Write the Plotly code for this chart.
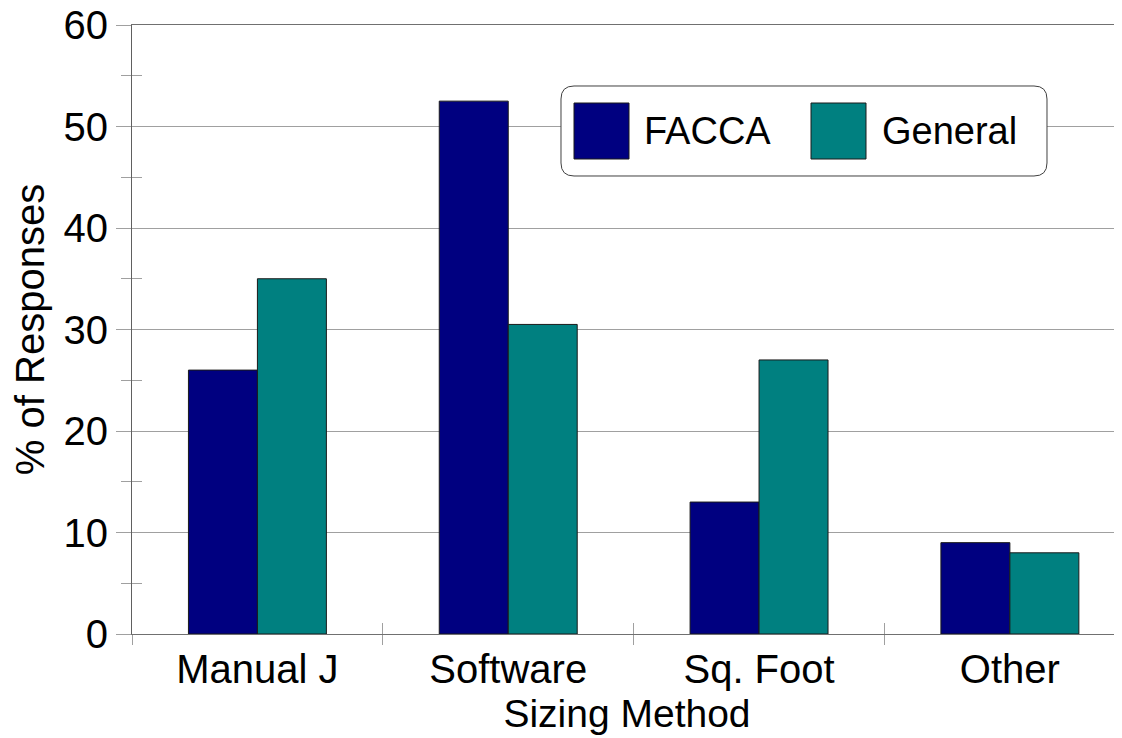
import plotly.graph_objects as go

categories = ["Manual J", "Software", "Sq. Foot", "Other"]
facca = [26, 52.5, 13, 9]
general = [35, 30.5, 27, 8]
series_names = ["FACCA", "General"]
series_colors = ["#000080", "#008080"]

# the page body adds an 8px offset; compensate so the plot lands where the reference has it
OFF = 8
W, H = 1122 - OFF, 738 - OFF
PL, PT, PB = 132, 25, 634          # plot area in page pixels
L, T, R = PL - OFF, PT - OFF, 0
B = (H + OFF) - PB
PW, PH = 1122 - PL, PB - PT

def px(x):
    return (x - PL) / PW

def py(y):
    return (PB - y) / PH

FONT = "Liberation Sans, Arial, sans-serif"

fig = go.Figure()
for name, vals, col in zip(series_names, [facca, general], series_colors):
    fig.add_trace(go.Bar(name=name, x=categories, y=vals, marker_color=col,
                         marker_line_color="#1a1a1a", marker_line_width=1,
                         showlegend=False))
# invisible trace to activate overlay axes
fig.add_trace(go.Scatter(x=categories, y=[None] * 4, xaxis="x2", yaxis="y2",
                         mode="markers", showlegend=False, hoverinfo="skip"))

xr = [-0.5, 3.447]
fig.update_layout(
    width=W, height=H,
    margin=dict(l=L, r=R, t=T, b=B, pad=0, autoexpand=False),
    paper_bgcolor="white", plot_bgcolor="white",
    font=dict(family=FONT, color="black", size=40),
    barmode="group", bargap=0.45, bargroupgap=0,
    showlegend=False,
    xaxis=dict(type="category", categoryorder="array", categoryarray=categories,
               range=xr, tickson="boundaries", ticks="outside", ticklen=10,
               tickcolor="#a0a0a0", tickwidth=1, automargin=False,
               showline=True, linecolor="#707070", linewidth=1, mirror=True,
               showgrid=False, zeroline=False,
               tickfont=dict(size=40), ticklabelstandoff=0,
               title=dict(text="Sizing Method", font=dict(size=39), standoff=9)),
    xaxis2=dict(type="category", categoryorder="array", categoryarray=categories,
                range=xr, overlaying="x", anchor="y", side="bottom", automargin=False,
                tickson="boundaries", ticks="inside", ticklen=11,
                tickcolor="#a0a0a0", showticklabels=False, showgrid=False,
                showline=False, zeroline=False),
    yaxis=dict(range=[0, 60], dtick=10, tick0=0, ticks="outside", ticklen=15,
               tickcolor="#a0a0a0", showline=True, linecolor="#606060", linewidth=1,
               showgrid=True, gridcolor="#a0a0a0", gridwidth=1, zeroline=False,
               tickfont=dict(size=40), ticklabelstandoff=0, automargin=False,
               ticklabeloverflow="allow",
               minor=dict(ticks="outside", ticklen=10, tickcolor="#a0a0a0", dtick=5,
                          tick0=0, showgrid=False),
               title=dict(text="% of Responses", font=dict(size=40), standoff=8)),
    yaxis2=dict(range=[0, 60], overlaying="y", anchor="x", side="left", automargin=False,
                tick0=5, dtick=10, ticks="inside", ticklen=10, tickcolor="#a0a0a0",
                showticklabels=False, showgrid=False, showline=False, zeroline=False),
)

# legend box with rounded corners
x0, y0, x1, y1, r = 561, 86, 1047, 176, 13
def P(x, y):
    return f"{px(x):.6f},{py(y):.6f}"
path = (f"M {P(x0 + r, y0)} L {P(x1 - r, y0)} Q {P(x1, y0)} {P(x1, y0 + r)} "
        f"L {P(x1, y1 - r)} Q {P(x1, y1)} {P(x1 - r, y1)} "
        f"L {P(x0 + r, y1)} Q {P(x0, y1)} {P(x0, y1 - r)} "
        f"L {P(x0, y0 + r)} Q {P(x0, y0)} {P(x0 + r, y0)} Z")
shapes = [dict(type="path", path=path, xref="paper", yref="paper",
               fillcolor="white", line=dict(color="#404040", width=1), layer="above")]
annotations = []
swatches = [(574, 103, 629, 159, 642), (811, 103, 866, 159, 880)]
for (sx0, sy0, sx1, sy1, tx), name, col in zip(swatches, series_names, series_colors):
    shapes.append(dict(type="rect", xref="paper", yref="paper",
                       x0=px(sx0), x1=px(sx1), y0=py(sy1), y1=py(sy0),
                       fillcolor=col, line=dict(color="#1a1a1a", width=1), layer="above"))
    annotations.append(dict(text=name, xref="paper", yref="paper",
                            x=px(tx), y=py(131), xanchor="left", yanchor="middle",
                            showarrow=False, font=dict(size=38, color="black", family=FONT)))
fig.update_layout(shapes=shapes, annotations=annotations)

fig.write_html("out.html")
